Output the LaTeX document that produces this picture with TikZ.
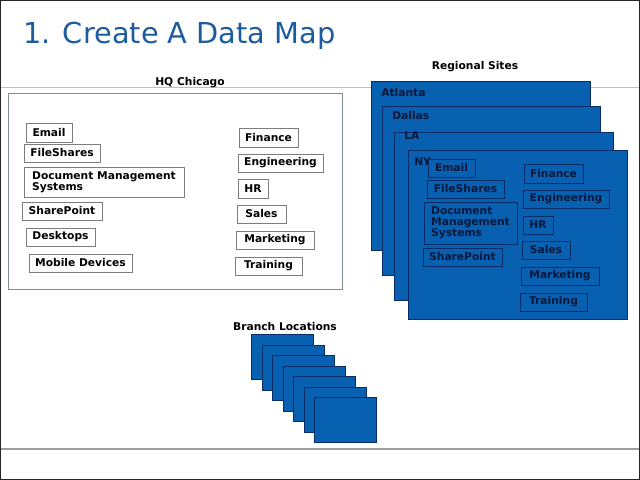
\documentclass[tikz,border=0pt]{standalone}
\usepackage{fontspec}
\setmainfont{DejaVu Sans}
\usetikzlibrary{positioning,calc}
\definecolor{titleblue}{RGB}{28,92,158}
\definecolor{siteblue}{RGB}{8,96,176}
\definecolor{siteedge}{RGB}{10,45,105}
\definecolor{sitetext}{RGB}{12,24,58}
\definecolor{hqedge}{RGB}{125,140,158}
\definecolor{itemedge}{RGB}{125,125,125}
\definecolor{rulegray}{RGB}{190,190,190}

\begin{document}
\begin{tikzpicture}[x=0.025cm,y=-0.025cm,
 sz/.style 2 args={minimum width=#1*0.025cm,minimum height=#2*0.025cm},
 it/.style={draw=itemedge,line width=.65pt,inner sep=0pt,align=left,font=\fontsize{7.6}{8}\selectfont\bfseries},
 nyit/.style={it,draw=siteedge,text=sitetext},
 sb/.style={draw=siteedge,fill=siteblue,line width=.8pt,anchor=north west,inner sep=0pt},
 lb/.style={font=\fontsize{7.6}{8}\selectfont\bfseries,inner sep=0pt}]
\useasboundingbox (0,0) rectangle (640,480);
% frame and rules
\draw[rulegray,line width=.6pt] (0,87) -- (640,87);
\draw[gray!75,line width=2pt] (0,449) -- (640,449);
\draw[black!85,line width=1.2pt] (0.6,0.6) rectangle (639.4,479.4);
\node[anchor=base west,inner sep=0pt,text=titleblue,font=\fontsize{20.5}{24}\selectfont] (ttl) at (23,43) {1. Create A Data Map};
% HQ
\node[lb] (hqlbl) at (190,83) {HQ Chicago};
\node[draw=hqedge,line width=.7pt,anchor=north west,inner sep=0pt,sz={334}{196}] (hq) at (8,93) {};
\node[it,sz={46}{19}] (hqmail) at (49,132.5) {Email};
\node[it,sz={76}{18}] (hqfs) at (62,153) {FileShares};
\node[it,sz={160}{30}] (hqdms) at (104,182) {Document Management\\Systems};
\node[it,sz={80}{18}] (hqsp) at (62,211) {SharePoint};
\node[it,sz={69}{18}] (hqdt) at (60.5,237) {Desktops};
\node[it,sz={103}{18}] (hqmob) at (80.5,263) {Mobile Devices};
\node[it,sz={59}{19}] (hqfin) at (268.5,137.5) {Finance};
\node[it,sz={85}{18}] (hqeng) at (280.5,163) {Engineering};
\node[it,sz={30}{19}] (hqhr) at (253,188.5) {HR};
\node[it,sz={49}{18}] (hqsal) at (261.5,214) {Sales};
\node[it,sz={78}{18}] (hqmkt) at (275,240) {Marketing};
\node[it,sz={67}{18}] (hqtrn) at (268.5,266) {Training};
% regional sites
\node[lb] (reglbl) at (475,67) {Regional Sites};
\node[sb,sz={219}{169}] (atl) at (371,81) {};
\node[lb,text=sitetext,anchor=west] at (381,92.7) {Atlanta};
\node[sb,sz={218}{169}] (dal) at (382,106) {};
\node[lb,text=sitetext,anchor=west] at (392,115.7) {Dallas};
\node[sb,sz={219}{168}] (la) at (394,132) {};
\node[lb,text=sitetext,anchor=west] at (404,136) {LA};
\node[sb,sz={219}{169}] (ny) at (408,150) {};
\node[lb,text=sitetext,anchor=west] at (414,161.7) {NY};
\node[nyit,sz={47}{18}] (nymail) at (451.5,168) {Email};
\node[nyit,sz={77}{18}] (nyfs) at (465.5,189) {FileShares};
\node[nyit,sz={93}{42}] (nydms) at (470.5,223) {Document\\Management\\Systems};
\node[nyit,sz={79}{18}] (nysp) at (462.5,257) {SharePoint};
\node[nyit,sz={59}{19}] (nyfin) at (553.5,173.5) {Finance};
\node[nyit,sz={86}{18}] (nyeng) at (566,199) {Engineering};
\node[nyit,sz={30}{18}] (nyhr) at (538,225) {HR};
\node[nyit,sz={48}{18}] (nysal) at (546,250) {Sales};
\node[nyit,sz={78}{18}] (nymkt) at (560,276) {Marketing};
\node[nyit,sz={67}{18}] (nytrn) at (553.5,302) {Training};
% branches
\node[lb] (brlbl) at (285,327) {Branch Locations};
\foreach \i in {0,...,6}
 \node[sb,sz={62}{45}] (br\i) at (251+10.5*\i,334+10.5*\i) {};
\end{tikzpicture}
\end{document}
